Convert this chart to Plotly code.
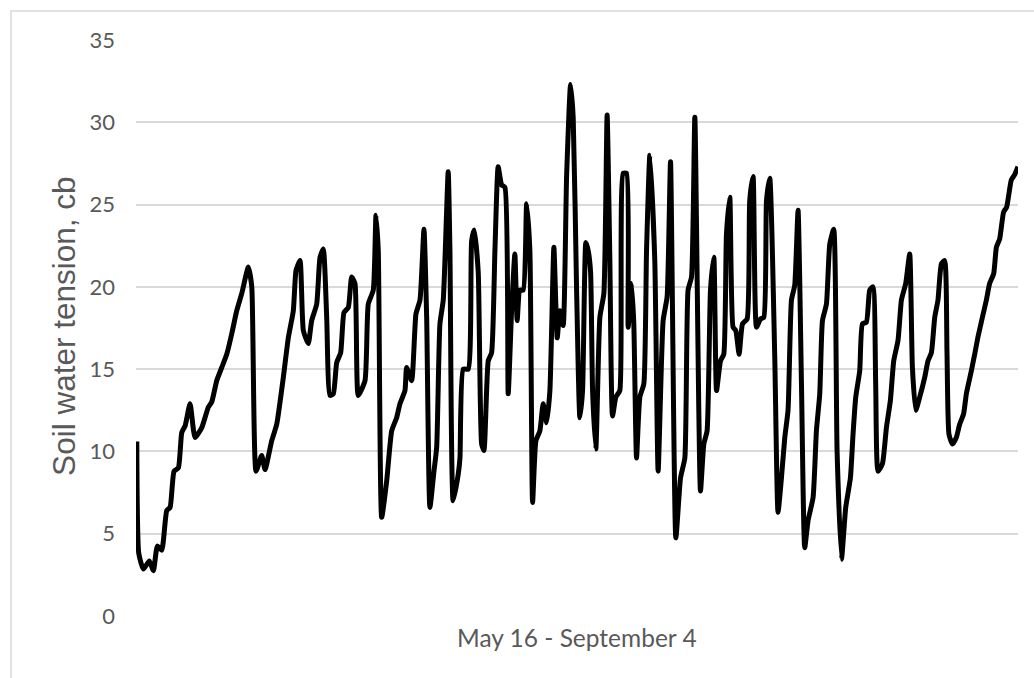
import plotly.graph_objects as go

# day offset from May 16 and soil water tension (cb)
day = [0.0, 0.25, 0.83, 1.58, 2.09, 2.59, 3.14, 3.77, 4.19, 4.69, 5.23, 5.66, 6.08, 6.70, 7.33, 8.18,
       9.01, 9.43, 10.06, 10.69, 11.32, 11.95, 12.58, 13.21, 14.04, 14.47, 15.01, 15.72, 16.14, 16.98,
       17.61, 18.44, 19.07, 19.70, 20.04, 20.54, 20.96, 21.58, 22.01, 22.64, 23.06, 23.47, 23.90, 24.31,
       24.73, 25.16, 25.66, 26.08, 26.62, 27.04, 27.46, 27.87, 28.72, 29.13, 29.76, 30.10, 30.39, 30.82,
       31.45, 32.08, 32.70, 33.12, 33.75, 33.96, 34.59, 35.13, 35.64, 36.14, 36.48, 36.89, 37.40, 37.74,
       38.15, 38.57, 39.19, 39.41, 39.82, 40.45, 40.67, 41.08, 41.71, 42.14, 42.47, 42.97, 43.40, 43.69,
       44.23, 44.65, 45.07, 45.48, 45.91, 46.33, 46.74, 47.17, 47.58, 47.87, 48.21, 48.63, 49.06, 49.47,
       49.81, 50.23, 50.73, 51.14, 51.57, 51.99, 52.49, 52.91, 53.25, 53.66, 54.09, 54.59, 54.92, 55.35,
       55.76, 56.10, 56.52, 56.81, 57.11, 57.36, 57.77, 58.28, 58.78, 59.19, 59.53, 59.87, 60.29, 60.79,
       61.21, 61.64, 61.84, 62.26, 62.55, 62.89, 63.31, 63.81, 64.15, 64.57, 65.19, 65.61, 66.24, 66.74,
       67.17, 67.84, 68.43, 68.97, 69.38, 69.81, 70.23, 70.94, 71.36, 71.77, 72.20, 72.62, 72.96, 73.46,
       73.87, 74.21, 74.63, 75.04, 75.38, 75.80, 76.23, 76.81, 77.14, 77.56, 77.99, 78.49, 78.91, 79.25,
       79.66, 80.29, 80.70, 81.13, 81.55, 81.96, 82.39, 82.80, 83.22, 83.65, 84.06, 84.48, 85.11, 85.53,
       85.95, 86.29, 86.79, 87.21, 87.71, 88.13, 88.68, 89.22, 89.81, 90.14, 90.48, 90.98, 91.32, 91.82,
       92.24, 92.65, 92.99, 93.28, 93.84, 94.34, 94.84, 95.26, 95.80, 96.23, 96.77, 97.27, 97.61, 98.03,
       98.53, 99.16, 99.57, 100.00, 100.42, 100.83, 101.26, 101.67, 101.96, 102.21, 102.64, 103.14,
       103.56, 104.06, 104.40, 105.03, 105.45, 105.86, 106.42, 106.92, 107.33, 107.84, 108.18, 108.59,
       109.09, 109.47, 110.06, 110.47, 110.89]
tension = [10.6, 3.8, 2.85, 3.35, 2.75, 4.25, 4.0, 6.4, 6.6, 8.8, 9.0, 11.15, 11.55, 12.9, 10.85, 11.45,
           12.7, 13.0, 14.3, 15.1, 15.9, 17.15, 18.55, 19.6, 21.2, 20.0, 8.8, 9.75, 8.9, 10.65,
           11.65, 14.5, 16.9, 18.55, 21.0, 21.6, 17.35, 16.55, 17.95, 18.95, 21.8, 22.3, 18.15, 13.4,
           13.5, 15.4, 16.0, 18.45, 18.75, 20.6, 20.2, 13.4, 14.3, 18.95, 19.8, 24.35, 22.2, 6.0,
           8.2, 11.25, 12.05, 12.9, 13.7, 15.1, 14.3, 18.35, 19.2, 23.5, 18.15, 6.6, 8.8, 10.25,
           17.75, 19.2, 27.0, 22.2, 7.0, 8.6, 9.6, 15.0, 15.0, 22.8, 23.45, 20.9, 10.45, 10.05,
           15.5, 16.0, 22.2, 27.3, 26.2, 26.05, 13.5, 18.55, 22.0, 17.95, 19.8, 19.8, 25.05, 22.2,
           6.9, 10.65, 11.25, 12.9, 11.75, 13.7, 22.4, 16.9, 18.55, 17.65, 26.7, 32.3, 30.3, 19.8,
           12.05, 13.7, 22.7, 22.2, 20.9, 13.7, 10.15, 18.15, 19.6, 30.45, 21.8, 12.15, 13.3, 13.7,
           26.9, 26.9, 17.55, 20.2, 17.75, 9.6, 13.3, 14.1, 22.2, 28.0, 21.6, 8.8, 17.95, 19.4,
           27.6, 4.75, 8.4, 9.6, 19.8, 20.6, 30.3, 7.6, 10.45, 11.25, 19.8, 21.8, 13.7, 15.5,
           15.9, 23.2, 25.45, 17.55, 17.35, 15.9, 17.75, 18.05, 25.25, 26.7, 17.55, 18.05, 18.15, 25.25,
           26.6, 15.7, 6.3, 8.4, 10.85, 12.5, 19.2, 20.1, 24.65, 14.1, 4.15, 5.8, 7.2, 11.25,
           13.5, 17.95, 18.95, 22.6, 23.5, 10.05, 3.45, 6.6, 8.4, 11.05, 13.3, 14.9, 17.75, 17.85,
           19.8, 20.0, 14.1, 8.8, 9.25, 11.45, 13.1, 15.5, 16.75, 19.2, 20.2, 22.0, 15.1, 12.5,
           13.3, 14.5, 15.5, 16.0, 18.15, 19.2, 21.4, 21.6, 16.15, 11.05, 10.45, 10.85,
           11.65, 12.3, 13.5, 14.9, 15.9, 16.95, 18.15, 19.2, 20.2, 20.8, 22.4, 22.9,
           24.55, 24.85, 26.5, 26.8, 27.3]

y_ticks = [0, 5, 10, 15, 20, 25, 30, 35]
x_label = "May 16 - September 4"
y_title = "Soil water tension, cb"

FONT = "Lato, 'Liberation Sans', sans-serif"
TITLE_FONT = "'Liberation Sans', Arial, sans-serif"
GRAY = "#595959"

fig = go.Figure()
fig.add_trace(go.Scatter(
    x=day, y=tension, mode="lines",
    line=dict(color="black", width=5, shape="spline", smoothing=0.5),
    hoverinfo="x+y", showlegend=False,
))

fig.update_layout(
    width=1034, height=678,
    margin=dict(l=136, r=16, t=40, b=62),
    paper_bgcolor="white", plot_bgcolor="white",
    font=dict(family=FONT, color=GRAY, size=24),
    xaxis=dict(range=[-0.1, 110.9], showgrid=False, showticklabels=False,
               zeroline=False, showline=False, ticks=""),
    yaxis=dict(range=[0, 35], tickvals=y_ticks, showgrid=True, gridcolor="#d9d9d9",
               gridwidth=1.5, zeroline=False, showline=False, ticks="",
               ticklabelstandoff=20, tickfont=dict(size=22, color=GRAY)),
    shapes=[dict(type="rect", xref="paper", yref="paper",
                 x0=-0.1417, x1=1.05, y0=-0.3, y1=1.0503,
                 line=dict(color="#d9d9d9", width=1.5), fillcolor="rgba(0,0,0,0)",
                 layer="below")],
    annotations=[
        dict(text=x_label, xref="paper", yref="paper", x=0.5, y=-0.038,
             xanchor="center", yanchor="middle", showarrow=False,
             font=dict(size=24.5, color=GRAY)),
        dict(text=y_title, xref="paper", yref="paper", x=-0.0816, y=0.502,
             xanchor="center", yanchor="middle", textangle=-90, showarrow=False,
             font=dict(family=TITLE_FONT, size=31.5, color=GRAY)),
    ],
)

fig.write_html("out.html", config={"displayModeBar": False},
               post_script="document.body.style.margin='0';document.body.style.overflow='hidden';")
